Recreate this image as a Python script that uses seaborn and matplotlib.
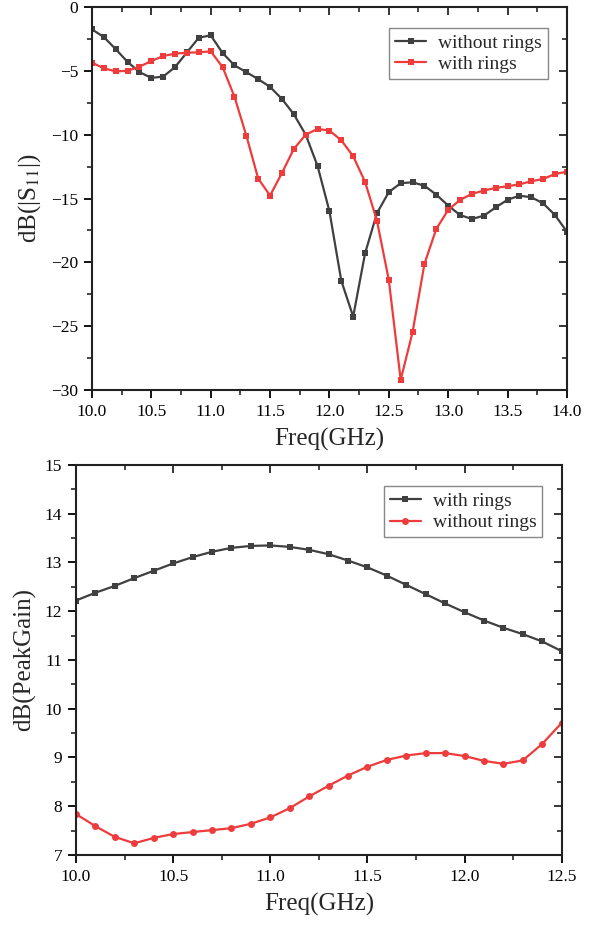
import matplotlib
matplotlib.use("Agg")
import matplotlib.pyplot as plt
from matplotlib.ticker import MultipleLocator
import seaborn as sns
import numpy as np
import pandas as pd

# --- S11 data (10.0 .. 14.0 GHz, 0.1 GHz step)
freq_s11 = np.round(np.arange(100, 141) / 10, 1)
s11_without = [
    -1.75, -2.35, -3.3, -4.3, -5.1, -5.55, -5.45, -4.7, -3.55, -2.4,
    -2.22, -3.6, -4.57, -5.1, -5.65, -6.26, -7.2, -8.4, -10.0, -12.45,
    -16.0, -21.45, -24.25, -19.3, -16.15, -14.5, -13.8, -13.73, -14.0, -14.7,
    -15.55, -16.3, -16.6, -16.35, -15.7, -15.1, -14.78, -14.9, -15.38, -16.3,
    -17.6,
]
s11_with = [
    -4.36, -4.8, -5.04, -5.0, -4.67, -4.23, -3.84, -3.65, -3.58, -3.55,
    -3.47, -4.7, -7.02, -10.07, -13.44, -14.77, -13.0, -11.12, -10.0, -9.55,
    -9.68, -10.44, -11.69, -13.7, -16.73, -21.38, -29.2, -25.48, -20.13, -17.38,
    -15.9, -15.11, -14.64, -14.38, -14.17, -14.04, -13.89, -13.65, -13.47, -13.08,
    -12.9,
]

# --- Peak gain data (10.0 .. 12.5 GHz, 0.1 GHz step)
freq_gain = np.round(np.arange(100, 126) / 10, 1)
gain_with = [
    12.22, 12.38, 12.52, 12.68, 12.83, 12.98, 13.11, 13.22, 13.30, 13.34,
    13.35, 13.32, 13.26, 13.17, 13.04, 12.90, 12.73, 12.54, 12.35, 12.16,
    11.98, 11.81, 11.66, 11.53, 11.38, 11.18,
]
gain_without = [
    7.84, 7.59, 7.37, 7.24, 7.35, 7.43, 7.47, 7.51, 7.55, 7.64,
    7.77, 7.96, 8.20, 8.42, 8.63, 8.81, 8.95, 9.04, 9.09, 9.09,
    9.03, 8.93, 8.87, 8.94, 9.28, 9.71,
]

dark = "#404040"
red = "#ee3b3b"

sns.set_theme(style="ticks")
plt.rcParams["font.family"] = ["Liberation Serif", "DejaVu Serif"]
plt.rcParams["mathtext.fontset"] = "stix"

fig = plt.figure(figsize=(5.98, 9.25), dpi=100)
ax1 = fig.add_axes([0.1538, 0.5784, 0.7942, 0.414])
ax2 = fig.add_axes([0.1271, 0.0757, 0.8122, 0.4216])

df1 = pd.DataFrame({"f": freq_s11, "a": s11_without, "b": s11_with})
sns.lineplot(data=df1, x="f", y="a", ax=ax1, color=dark, marker="s",
             markersize=4.5, markeredgewidth=0, linewidth=1.6,
             label="without rings")
sns.lineplot(data=df1, x="f", y="b", ax=ax1, color=red, marker="s",
             markersize=4.5, markeredgewidth=0, linewidth=1.6,
             label="with rings")

df2 = pd.DataFrame({"f": freq_gain, "a": gain_with, "b": gain_without})
sns.lineplot(data=df2, x="f", y="a", ax=ax2, color=dark, marker="s",
             markersize=4.5, markeredgewidth=0, linewidth=1.6,
             label="with rings")
sns.lineplot(data=df2, x="f", y="b", ax=ax2, color=red, marker="o",
             markersize=5, markeredgewidth=0, linewidth=1.6,
             label="without rings")


def style_axes(ax, xlim, ylim, xmaj, ymaj, ylabel):
    ax.set_xlim(*xlim)
    ax.set_ylim(*ylim)
    ax.xaxis.set_major_locator(MultipleLocator(xmaj))
    ax.xaxis.set_minor_locator(MultipleLocator(xmaj / 2))
    ax.yaxis.set_major_locator(MultipleLocator(ymaj))
    ax.yaxis.set_minor_locator(MultipleLocator(ymaj / 2))
    ax.xaxis.set_major_formatter(lambda v, p: f"{v:.1f}")
    ax.tick_params(which="major", direction="out", length=6, width=1.3,
                   labelsize=12.5, colors="black", pad=4)
    ax.tick_params(which="minor", direction="out", length=3.5, width=1.2)
    for s in ax.spines.values():
        s.set_linewidth(1.5)
        s.set_color("#222222")
        s.set_visible(True)
    sx = ax.secondary_xaxis("top")
    sx.xaxis.set_major_locator(MultipleLocator(xmaj))
    sx.xaxis.set_minor_locator(MultipleLocator(xmaj / 2))
    sx.tick_params(which="major", direction="in", length=6, width=1.3,
                   labeltop=False)
    sx.tick_params(which="minor", direction="in", length=3.5, width=1.2)
    sy = ax.secondary_yaxis("right")
    sy.yaxis.set_major_locator(MultipleLocator(ymaj))
    sy.yaxis.set_minor_locator(MultipleLocator(ymaj / 2))
    sy.tick_params(which="major", direction="in", length=6, width=1.3,
                   labelright=False)
    sy.tick_params(which="minor", direction="in", length=3.5, width=1.2)
    ax.set_xlabel("Freq(GHz)", fontsize=18, labelpad=6)
    ax.set_ylabel(ylabel, fontsize=18, labelpad=6)
    leg = ax.legend(loc="upper right", fontsize=14, frameon=True,
                    fancybox=False, edgecolor="#888888", framealpha=1,
                    handlelength=1.6, handletextpad=0.6, borderpad=0.3,
                    labelspacing=0.2, bbox_to_anchor=(0.98, 0.97))
    leg.get_frame().set_linewidth(1.0)


style_axes(ax1, (10, 14), (-30, 0), 0.5, 5, r"dB(|S$_{11}$|)")
style_axes(ax2, (10, 12.5), (7, 15), 0.5, 1, "dB(PeakGain)")

fig.savefig("out.png", dpi=100)
